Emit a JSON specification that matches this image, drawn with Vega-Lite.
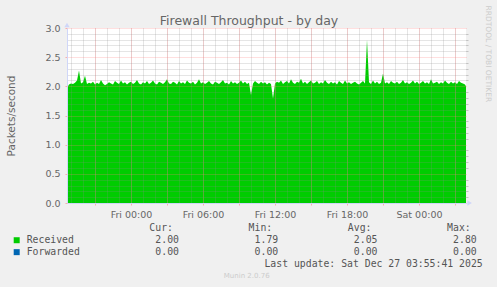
{
"$schema": "https://vega.github.io/schema/vega-lite/v6.json",
"width": 399, "height": 175,
"autosize": {"type": "none"},
"padding": {"left": 67, "top": 28, "right": 31, "bottom": 84},
"background": "#F0F0F0",
"config": {"view": {"fill": "#FFFFFF", "stroke": null}},
"datasets": {
"flow": [
{"t":"2025-12-25T18:40","Received":1.97},{"t":"2025-12-25T18:50","Received":2.03},
{"t":"2025-12-25T19:00","Received":2.05},{"t":"2025-12-25T19:10","Received":2.04},{"t":"2025-12-25T19:20","Received":2.06},{"t":"2025-12-25T19:30","Received":2.10},{"t":"2025-12-25T19:40","Received":2.27},{"t":"2025-12-25T19:50","Received":2.05},
{"t":"2025-12-25T20:00","Received":2.07},{"t":"2025-12-25T20:10","Received":2.18},{"t":"2025-12-25T20:20","Received":2.04},{"t":"2025-12-25T20:30","Received":2.06},{"t":"2025-12-25T20:40","Received":2.05},{"t":"2025-12-25T20:50","Received":2.08},
{"t":"2025-12-25T21:00","Received":2.03},{"t":"2025-12-25T21:10","Received":2.06},{"t":"2025-12-25T21:20","Received":2.04},{"t":"2025-12-25T21:30","Received":2.11},{"t":"2025-12-25T21:40","Received":2.05},{"t":"2025-12-25T21:50","Received":2.02},
{"t":"2025-12-25T22:00","Received":2.04},{"t":"2025-12-25T22:10","Received":2.07},{"t":"2025-12-25T22:20","Received":2.05},{"t":"2025-12-25T22:30","Received":2.03},{"t":"2025-12-25T22:40","Received":2.09},{"t":"2025-12-25T22:50","Received":2.06},
{"t":"2025-12-25T23:00","Received":2.04},{"t":"2025-12-25T23:10","Received":2.10},{"t":"2025-12-25T23:20","Received":2.05},{"t":"2025-12-25T23:30","Received":2.07},{"t":"2025-12-25T23:40","Received":2.03},{"t":"2025-12-25T23:50","Received":2.06},
{"t":"2025-12-26T00:00","Received":2.08},{"t":"2025-12-26T00:10","Received":2.04},{"t":"2025-12-26T00:20","Received":2.06},{"t":"2025-12-26T00:30","Received":2.11},{"t":"2025-12-26T00:40","Received":2.05},{"t":"2025-12-26T00:50","Received":2.03},
{"t":"2025-12-26T01:00","Received":2.07},{"t":"2025-12-26T01:10","Received":2.05},{"t":"2025-12-26T01:20","Received":2.09},{"t":"2025-12-26T01:30","Received":2.04},{"t":"2025-12-26T01:40","Received":2.06},{"t":"2025-12-26T01:50","Received":2.10},
{"t":"2025-12-26T02:00","Received":2.05},{"t":"2025-12-26T02:10","Received":2.03},{"t":"2025-12-26T02:20","Received":2.08},{"t":"2025-12-26T02:30","Received":2.06},{"t":"2025-12-26T02:40","Received":2.04},{"t":"2025-12-26T02:50","Received":2.07},
{"t":"2025-12-26T03:00","Received":2.12},{"t":"2025-12-26T03:10","Received":2.05},{"t":"2025-12-26T03:20","Received":2.04},{"t":"2025-12-26T03:30","Received":2.08},{"t":"2025-12-26T03:40","Received":2.06},{"t":"2025-12-26T03:50","Received":2.03},
{"t":"2025-12-26T04:00","Received":2.09},{"t":"2025-12-26T04:10","Received":2.05},{"t":"2025-12-26T04:20","Received":2.07},{"t":"2025-12-26T04:30","Received":2.04},{"t":"2025-12-26T04:40","Received":2.10},{"t":"2025-12-26T04:50","Received":2.06},
{"t":"2025-12-26T05:00","Received":2.05},{"t":"2025-12-26T05:10","Received":2.08},{"t":"2025-12-26T05:20","Received":2.03},{"t":"2025-12-26T05:30","Received":2.06},{"t":"2025-12-26T05:40","Received":2.12},{"t":"2025-12-26T05:50","Received":2.05},
{"t":"2025-12-26T06:00","Received":2.07},{"t":"2025-12-26T06:10","Received":2.04},{"t":"2025-12-26T06:20","Received":2.06},{"t":"2025-12-26T06:30","Received":2.09},{"t":"2025-12-26T06:40","Received":2.05},{"t":"2025-12-26T06:50","Received":2.03},
{"t":"2025-12-26T07:00","Received":2.08},{"t":"2025-12-26T07:10","Received":2.06},{"t":"2025-12-26T07:20","Received":2.04},{"t":"2025-12-26T07:30","Received":2.07},{"t":"2025-12-26T07:40","Received":2.11},{"t":"2025-12-26T07:50","Received":2.05},
{"t":"2025-12-26T08:00","Received":2.06},{"t":"2025-12-26T08:10","Received":2.03},{"t":"2025-12-26T08:20","Received":2.09},{"t":"2025-12-26T08:30","Received":2.05},{"t":"2025-12-26T08:40","Received":2.07},{"t":"2025-12-26T08:50","Received":2.04},
{"t":"2025-12-26T09:00","Received":2.06},{"t":"2025-12-26T09:10","Received":2.10},{"t":"2025-12-26T09:20","Received":2.05},{"t":"2025-12-26T09:30","Received":2.08},{"t":"2025-12-26T09:40","Received":2.04},{"t":"2025-12-26T09:50","Received":2.06},
{"t":"2025-12-26T10:00","Received":1.85},{"t":"2025-12-26T10:10","Received":2.05},{"t":"2025-12-26T10:20","Received":2.09},{"t":"2025-12-26T10:30","Received":2.06},{"t":"2025-12-26T10:40","Received":2.04},{"t":"2025-12-26T10:50","Received":2.08},
{"t":"2025-12-26T11:00","Received":2.05},{"t":"2025-12-26T11:10","Received":2.07},{"t":"2025-12-26T11:20","Received":2.03},{"t":"2025-12-26T11:30","Received":2.06},{"t":"2025-12-26T11:40","Received":2.04},{"t":"2025-12-26T11:50","Received":1.79},
{"t":"2025-12-26T12:00","Received":2.05},{"t":"2025-12-26T12:10","Received":2.08},{"t":"2025-12-26T12:20","Received":2.06},{"t":"2025-12-26T12:30","Received":2.10},{"t":"2025-12-26T12:40","Received":2.04},{"t":"2025-12-26T12:50","Received":2.07},
{"t":"2025-12-26T13:00","Received":2.09},{"t":"2025-12-26T13:10","Received":2.05},{"t":"2025-12-26T13:20","Received":2.12},{"t":"2025-12-26T13:30","Received":2.06},{"t":"2025-12-26T13:40","Received":2.04},{"t":"2025-12-26T13:50","Received":2.08},
{"t":"2025-12-26T14:00","Received":2.06},{"t":"2025-12-26T14:10","Received":2.13},{"t":"2025-12-26T14:20","Received":2.05},{"t":"2025-12-26T14:30","Received":2.08},{"t":"2025-12-26T14:40","Received":2.04},{"t":"2025-12-26T14:50","Received":2.07},
{"t":"2025-12-26T15:00","Received":2.10},{"t":"2025-12-26T15:10","Received":2.05},{"t":"2025-12-26T15:20","Received":2.06},{"t":"2025-12-26T15:30","Received":2.09},{"t":"2025-12-26T15:40","Received":2.04},{"t":"2025-12-26T15:50","Received":2.07},
{"t":"2025-12-26T16:00","Received":2.05},{"t":"2025-12-26T16:10","Received":2.11},{"t":"2025-12-26T16:20","Received":2.06},{"t":"2025-12-26T16:30","Received":2.04},{"t":"2025-12-26T16:40","Received":2.08},{"t":"2025-12-26T16:50","Received":2.05},
{"t":"2025-12-26T17:00","Received":2.07},{"t":"2025-12-26T17:10","Received":2.03},{"t":"2025-12-26T17:20","Received":2.09},{"t":"2025-12-26T17:30","Received":2.06},{"t":"2025-12-26T17:40","Received":2.04},{"t":"2025-12-26T17:50","Received":2.10},
{"t":"2025-12-26T18:00","Received":2.05},{"t":"2025-12-26T18:10","Received":2.07},{"t":"2025-12-26T18:20","Received":2.04},{"t":"2025-12-26T18:30","Received":2.06},{"t":"2025-12-26T18:40","Received":2.08},{"t":"2025-12-26T18:50","Received":2.05},
{"t":"2025-12-26T19:00","Received":2.03},{"t":"2025-12-26T19:10","Received":2.06},{"t":"2025-12-26T19:20","Received":2.09},{"t":"2025-12-26T19:30","Received":2.05},{"t":"2025-12-26T19:40","Received":2.80},{"t":"2025-12-26T19:50","Received":2.07},
{"t":"2025-12-26T20:00","Received":2.04},{"t":"2025-12-26T20:10","Received":2.10},{"t":"2025-12-26T20:20","Received":2.05},{"t":"2025-12-26T20:30","Received":2.08},{"t":"2025-12-26T20:40","Received":2.04},{"t":"2025-12-26T20:50","Received":2.06},
{"t":"2025-12-26T21:00","Received":2.22},{"t":"2025-12-26T21:10","Received":2.05},{"t":"2025-12-26T21:20","Received":2.07},{"t":"2025-12-26T21:30","Received":2.04},{"t":"2025-12-26T21:40","Received":2.09},{"t":"2025-12-26T21:50","Received":2.06},
{"t":"2025-12-26T22:00","Received":2.05},{"t":"2025-12-26T22:10","Received":2.08},{"t":"2025-12-26T22:20","Received":2.04},{"t":"2025-12-26T22:30","Received":2.06},{"t":"2025-12-26T22:40","Received":2.11},{"t":"2025-12-26T22:50","Received":2.05},
{"t":"2025-12-26T23:00","Received":2.07},{"t":"2025-12-26T23:10","Received":2.04},{"t":"2025-12-26T23:20","Received":2.06},{"t":"2025-12-26T23:30","Received":2.10},{"t":"2025-12-26T23:40","Received":2.05},{"t":"2025-12-26T23:50","Received":2.08},
{"t":"2025-12-27T00:00","Received":2.04},{"t":"2025-12-27T00:10","Received":2.06},{"t":"2025-12-27T00:20","Received":2.09},{"t":"2025-12-27T00:30","Received":2.05},{"t":"2025-12-27T00:40","Received":2.07},{"t":"2025-12-27T00:50","Received":2.04},
{"t":"2025-12-27T01:00","Received":2.12},{"t":"2025-12-27T01:10","Received":2.05},{"t":"2025-12-27T01:20","Received":2.06},{"t":"2025-12-27T01:30","Received":2.08},{"t":"2025-12-27T01:40","Received":2.04},{"t":"2025-12-27T01:50","Received":2.07},
{"t":"2025-12-27T02:00","Received":2.05},{"t":"2025-12-27T02:10","Received":2.10},{"t":"2025-12-27T02:20","Received":2.06},{"t":"2025-12-27T02:30","Received":2.04},{"t":"2025-12-27T02:40","Received":2.08},{"t":"2025-12-27T02:50","Received":2.05},
{"t":"2025-12-27T03:00","Received":2.07},{"t":"2025-12-27T03:10","Received":2.04},{"t":"2025-12-27T03:20","Received":2.09},{"t":"2025-12-27T03:30","Received":2.06},{"t":"2025-12-27T03:40","Received":2.05},{"t":"2025-12-27T03:50","Received":2.03},
{"t":"2025-12-27T03:55","Received":2.00}
],
"stats": [
{"series":"Received","Cur":2.00,"Min":1.79,"Avg":2.05,"Max":2.80},
{"series":"Forwarded","Cur":0,"Min":0,"Avg":0,"Max":0}
],
"heads": [
{"stat":"Cur","label":"Cur:"},{"stat":"Min","label":"Min:"},{"stat":"Avg","label":"Avg:"},{"stat":"Max","label":"Max:"}
],
"notes": [
{"stat":"Max","row":"upd","text":"Last update: Sat Dec 27 03:55:41 2025"}
],
"credit": [
{"stat":"Min","row":"munin","text":"Munin 2.0.76"}
],
"xarrow": [{"t":"2025-12-27T04:13","v":0}],
"yarrow": [{"t":"2025-12-25T18:40","v":3.05}]
},
"layer": [
{
"data": {"name": "flow"},
"transform": [{"fold": ["Received"], "as": ["series", "v"]}],
"mark": {"type": "area", "interpolate": "linear"},
"encoding": {
"x": {"field": "t", "type": "temporal",
"scale": {"domain": [{"year": 2025, "month": 12, "date": 25, "hours": 18, "minutes": 40}, {"year": 2025, "month": 12, "date": 27, "hours": 3, "minutes": 55}], "nice": false},
"axis": {"orient": "top", "grid": true, "gridColor": "#8c8c8c", "gridOpacity": 0.45, "gridDash": [1, 1], "tickCount": 33, "labels": false, "ticks": false, "domain": false,
"title": "Firewall Throughput - by day", "titleX": 181.5, "titleAlign": "center", "titleBaseline": "alphabetic", "titlePadding": 4, "titleFont": "DejaVu Sans", "titleFontSize": 12.5, "titleFontWeight": "normal", "titleColor": "#666666", "zindex": 1}},
"y": {"field": "v", "type": "quantitative", "stack": null,
"scale": {"domain": [0, 3], "nice": false},
"axis": {"orient": "right", "values": [0.1,0.2,0.3,0.4,0.6,0.7,0.8,0.9,1.1,1.2,1.3,1.4,1.6,1.7,1.8,1.9,2.1,2.2,2.3,2.4,2.6,2.7,2.8,2.9], "grid": true, "gridColor": "#8c8c8c", "gridOpacity": 0.45, "gridDash": [1, 1], "labels": false, "ticks": true, "tickColor": "#8c8c8c", "tickOpacity": 0.45, "tickSize": 2, "domain": false,
"title": "RRDTOOL / TOBI OETIKER", "titleAngle": 90, "titleFont": "DejaVu Sans", "titleFontSize": 7.5, "titleFontWeight": "normal", "titleColor": "#cccccc", "titleAlign": "left", "titleY": -23, "titlePadding": 15, "zindex": 1}},
"color": {"field": "series", "type": "nominal", "scale": {"domain": ["Received", "Forwarded"], "range": ["#00CC00", "#0066B3"]}, "legend": null}
}
},
{
"data": {"name": "xarrow"},
"mark": {"type": "point", "shape": "triangle-right", "filled": true, "size": 28, "color": "#CFD6F8", "opacity": 1},
"encoding": {
"x": {"field": "t", "type": "temporal",
"scale": {"domain": [{"year": 2025, "month": 12, "date": 25, "hours": 18, "minutes": 40}, {"year": 2025, "month": 12, "date": 27, "hours": 3, "minutes": 55}], "nice": false},
"axis": {"orient": "bottom", "grid": true, "gridColor": "#ff8080", "gridOpacity": 0.5, "gridDash": [1, 1], "tickCount": 11,
"labelExpr": "hours(datum.value) % 6 == 0 ? timeFormat(datum.value, '%a %H:%M') : ''",
"labelFont": "DejaVu Sans", "labelFontSize": 9.5, "labelColor": "#666666", "labelPadding": 4, "labelOverlap": false, "labelFlush": false,
"ticks": true, "tickColor": "#ff8080", "tickOpacity": 0.6, "tickSize": 2, "domain": true, "domainColor": "#CFD6F8", "title": null, "zindex": 1}},
"y": {"field": "v", "type": "quantitative",
"scale": {"domain": [0, 3], "nice": false},
"axis": {"orient": "left", "values": [0, 0.5, 1, 1.5, 2, 2.5, 3], "format": ".1f", "grid": true, "gridColor": "#ff8080", "gridOpacity": 0.5, "gridDash": [1, 1],
"labelFont": "DejaVu Sans", "labelFontSize": 9.5, "labelColor": "#666666", "labelPadding": 5,
"ticks": true, "tickColor": "#ff8080", "tickOpacity": 0.6, "tickSize": 2, "domain": true, "domainColor": "#CFD6F8",
"title": "Packets/second", "titleFont": "DejaVu Sans", "titleFontSize": 10.5, "titleFontWeight": "normal", "titleColor": "#666666", "titlePadding": 28, "zindex": 1}}
}
},
{
"data": {"name": "yarrow"},
"mark": {"type": "point", "shape": "triangle-up", "filled": true, "size": 28, "color": "#CFD6F8", "opacity": 1},
"encoding": {
"x": {"field": "t", "type": "temporal",
"scale": {"domain": [{"year": 2025, "month": 12, "date": 25, "hours": 18, "minutes": 40}, {"year": 2025, "month": 12, "date": 27, "hours": 3, "minutes": 55}], "nice": false}, "axis": null},
"y": {"field": "v", "type": "quantitative", "scale": {"domain": [0, 3], "nice": false}, "axis": null}
}
},
{
"data": {"name": "stats"},
"mark": {"type": "point", "shape": "square", "filled": true, "size": 36, "opacity": 1},
"encoding": {
"x": {"datum": "sq", "type": "nominal", "bandPosition": 0,
"scale": {"type": "band", "domain": ["sq", "Cur", "Min", "Avg", "Max"], "range": [-50.3, 409.7], "paddingInner": 0.3656, "paddingOuter": 0}, "axis": null},
"y": {"field": "series", "type": "nominal",
"scale": {"type": "point", "domain": ["hdr", "Received", "Forwarded", "upd", "munin"], "range": [200.3, 248], "padding": 0}, "axis": null},
"color": {"field": "series", "type": "nominal"}
}
},
{
"data": {"name": "stats"},
"mark": {"type": "text", "align": "left", "dx": 10, "font": "DejaVu Sans Mono", "fontSize": 9.8, "color": "#555555"},
"encoding": {
"x": {"datum": "sq", "type": "nominal", "bandPosition": 0,
"scale": {"type": "band", "domain": ["sq", "Cur", "Min", "Avg", "Max"], "range": [-50.3, 409.7], "paddingInner": 0.3656, "paddingOuter": 0}, "axis": null},
"y": {"field": "series", "type": "nominal",
"scale": {"type": "point", "domain": ["hdr", "Received", "Forwarded", "upd", "munin"], "range": [200.3, 248], "padding": 0}, "axis": null},
"text": {"field": "series"}
}
},
{
"data": {"name": "heads"},
"mark": {"type": "text", "align": "right", "dx": -6, "font": "DejaVu Sans Mono", "fontSize": 9.8, "color": "#555555"},
"encoding": {
"x": {"field": "stat", "type": "nominal", "bandPosition": 1,
"scale": {"type": "band", "domain": ["sq", "Cur", "Min", "Avg", "Max"], "range": [-50.3, 409.7], "paddingInner": 0.3656, "paddingOuter": 0}, "axis": null},
"y": {"datum": "hdr", "type": "nominal",
"scale": {"type": "point", "domain": ["hdr", "Received", "Forwarded", "upd", "munin"], "range": [200.3, 248], "padding": 0}, "axis": null},
"text": {"field": "label"}
}
},
{
"data": {"name": "stats"},
"transform": [{"fold": ["Cur", "Min", "Avg", "Max"], "as": ["stat", "value"]}],
"mark": {"type": "text", "align": "right", "font": "DejaVu Sans Mono", "fontSize": 9.8, "color": "#555555"},
"encoding": {
"x": {"field": "stat", "type": "nominal", "bandPosition": 1,
"scale": {"type": "band", "domain": ["sq", "Cur", "Min", "Avg", "Max"], "range": [-50.3, 409.7], "paddingInner": 0.3656, "paddingOuter": 0}, "axis": null},
"y": {"field": "series", "type": "nominal",
"scale": {"type": "point", "domain": ["hdr", "Received", "Forwarded", "upd", "munin"], "range": [200.3, 248], "padding": 0}, "axis": null},
"text": {"field": "value", "type": "quantitative", "format": ".2f"}
}
},
{
"data": {"name": "notes"},
"mark": {"type": "text", "align": "right", "dx": 6, "font": "DejaVu Sans Mono", "fontSize": 9.8, "color": "#555555"},
"encoding": {
"x": {"field": "stat", "type": "nominal", "bandPosition": 1,
"scale": {"type": "band", "domain": ["sq", "Cur", "Min", "Avg", "Max"], "range": [-50.3, 409.7], "paddingInner": 0.3656, "paddingOuter": 0}, "axis": null},
"y": {"field": "row", "type": "nominal",
"scale": {"type": "point", "domain": ["hdr", "Received", "Forwarded", "upd", "munin"], "range": [200.3, 248], "padding": 0}, "axis": null},
"text": {"field": "text"}
}
},
{
"data": {"name": "credit"},
"mark": {"type": "text", "align": "center", "font": "DejaVu Sans", "fontSize": 7, "color": "#cccccc"},
"encoding": {
"x": {"field": "stat", "type": "nominal", "bandPosition": 0.5,
"scale": {"type": "band", "domain": ["sq", "Cur", "Min", "Avg", "Max"], "range": [-50.3, 409.7], "paddingInner": 0.3656, "paddingOuter": 0}, "axis": null},
"y": {"field": "row", "type": "nominal",
"scale": {"type": "point", "domain": ["hdr", "Received", "Forwarded", "upd", "munin"], "range": [200.3, 248], "padding": 0}, "axis": null},
"text": {"field": "text"}
}
}
],
"resolve": {"scale": {"x": "independent", "y": "independent"}}
}
